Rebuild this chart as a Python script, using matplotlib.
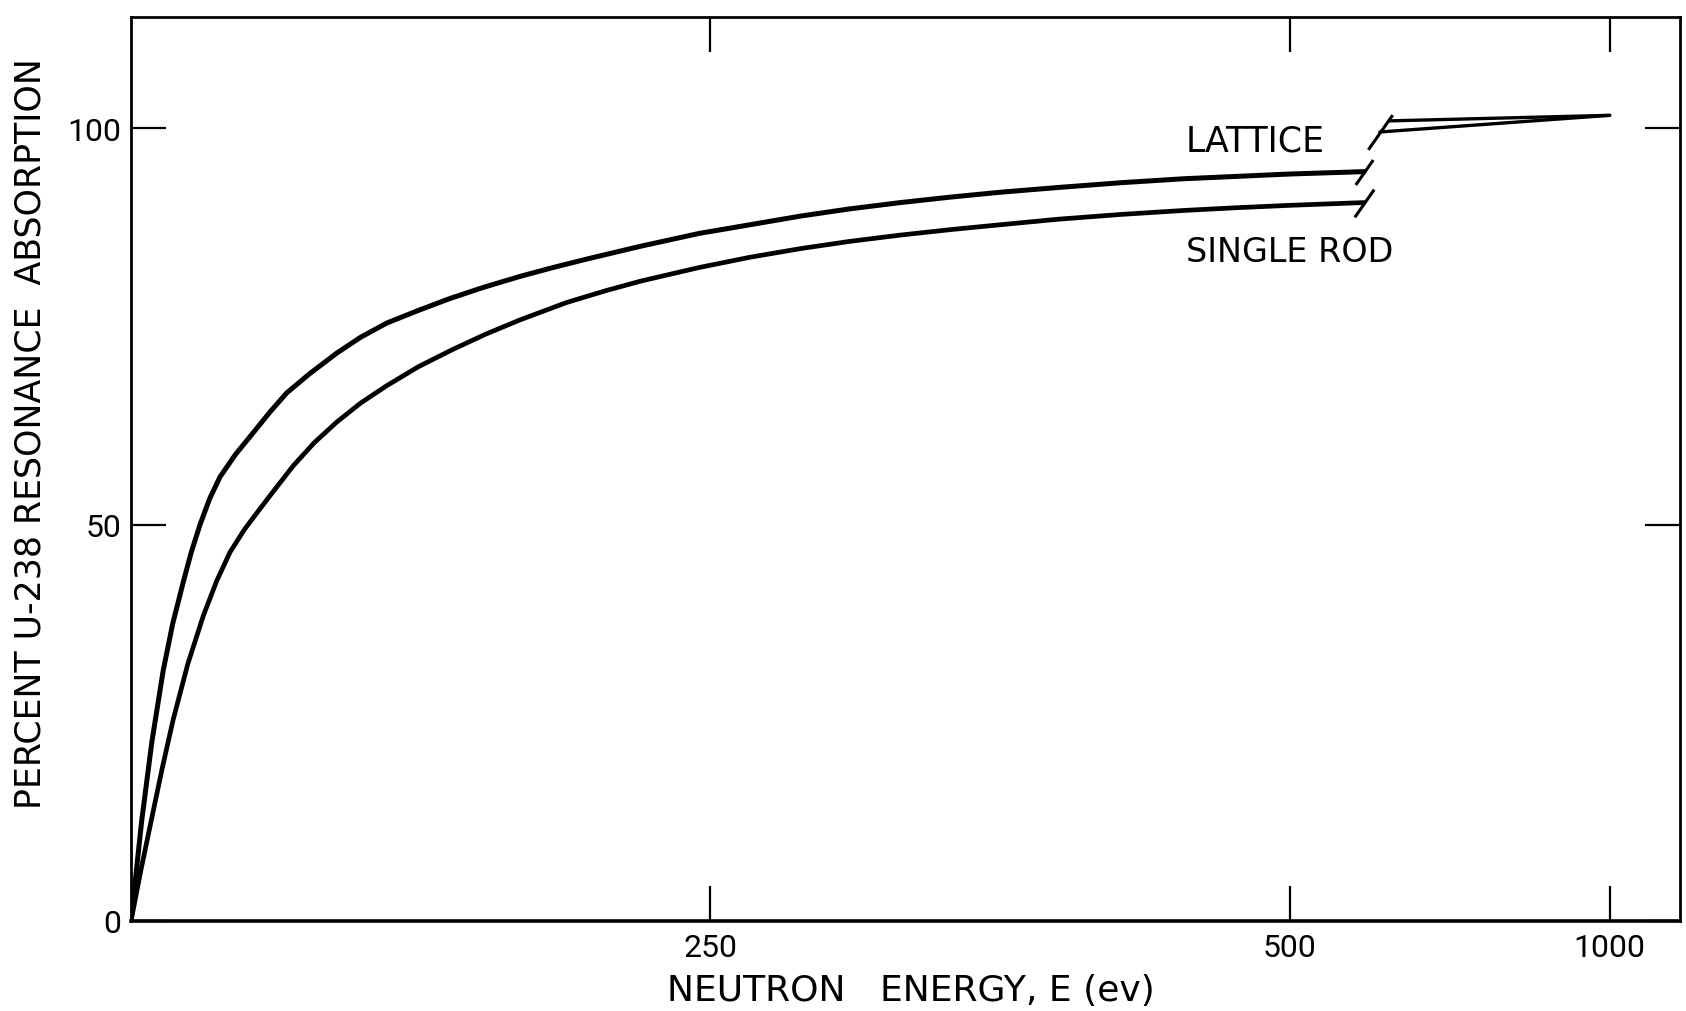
import numpy as np
import matplotlib
matplotlib.use('Agg')
import matplotlib.pyplot as plt

# curves (energy in ev, percent absorption)
lattice_e = [0, 4.6, 9, 13.9, 18, 22.6, 26, 29.8, 34, 38.4, 45, 52.8, 60, 67.2,
             77, 88.7, 99, 110.3, 124, 137.6, 152, 168, 182, 197, 220, 245,
             267, 289, 310, 332, 354, 375, 400, 427, 454, 477, 500, 532]
lattice_p = [0, 12.6, 22.6, 31.6, 37.5, 42.8, 46.5, 50.0, 53.3, 56.0, 58.8,
             61.6, 64.2, 66.6, 69.0, 71.6, 73.6, 75.4, 77.0, 78.5, 79.9, 81.3,
             82.4, 83.5, 85.1, 86.7, 87.8, 88.9, 89.8, 90.6, 91.3, 91.9, 92.5,
             93.1, 93.6, 93.9, 94.2, 94.5]

rod_e = [0, 4.4, 8.9, 13.5, 18.2, 24.5, 31.2, 37, 42.7, 49, 55.7, 62, 70, 79,
         88.7, 99, 110.3, 124, 139, 153, 167.8, 188, 205, 220, 245, 267, 289,
         310, 332, 354, 375, 400, 427, 454, 477, 500, 532]
rod_p = [0, 6.6, 12.9, 19.3, 25.4, 32.4, 38.5, 42.9, 46.5, 49.4, 52.0, 54.4,
         57.4, 60.3, 62.9, 65.3, 67.5, 69.9, 72.1, 74.0, 75.8, 78.0, 79.5,
         80.7, 82.4, 83.7, 84.8, 85.7, 86.5, 87.2, 87.8, 88.5, 89.1, 89.6,
         89.95, 90.25, 90.6]

# the two lines past the axis break, meeting at 1000 ev
lattice_tail_e = [568, 1000]
lattice_tail_p = [100.9, 101.6]
rod_tail_e = [549, 1000]
rod_tail_p = [99.5, 101.6]

x_ticks = [250, 500, 1000]
y_ticks = [0, 50, 100]

# broken energy axis: linear up to BRK, compressed beyond
BRK = 536.0
K = 0.2198


def fwd(e):
    e = np.asarray(e, dtype=float)
    return np.where(e <= BRK, e, BRK + (e - BRK) * K)


def inv(p):
    p = np.asarray(p, dtype=float)
    return np.where(p <= BRK, p, BRK + (p - BRK) / K)


fig = plt.figure(figsize=(16.86, 10.12), dpi=100)
ax = fig.add_axes([131 / 1686, 1 - 922 / 1012, (1680 - 131) / 1686, (922 - 18) / 1012])
ax.set_xscale('function', functions=(fwd, inv))
ax.set_xlim(0, 1138)
ax.set_ylim(0, 114)

line_kw = dict(color='black', solid_capstyle='round', solid_joinstyle='round')
ax.plot(lattice_e, lattice_p, lw=3.6, **line_kw)
ax.plot(rod_e, rod_p, lw=3.4, **line_kw)
ax.plot(lattice_tail_e, lattice_tail_p, lw=2.4, **line_kw)
ax.plot(rod_tail_e, rod_tail_p, lw=2.4, **line_kw)

# break marks at the curve ends
slash = [(-0.7, -1), (0.7, 1)]
ax.plot(lattice_e[-1], lattice_p[-1], marker=slash, ms=18, mew=2.2, color='black')
ax.plot(rod_e[-1], rod_p[-1], marker=slash, ms=20, mew=2.2, color='black')
ax.plot(rod_tail_e[0], rod_tail_p[0], marker=slash, ms=25, mew=2.2, color='black')

ax.text(455, 98.4, 'LATTICE', fontsize=25, va='center', ha='left')
ax.text(455, 84.4, 'SINGLE ROD', fontsize=24, va='center', ha='left')

ax.set_xticks(x_ticks)
ax.set_xticklabels([str(v) for v in x_ticks], fontfamily='Roboto', fontsize=23)
ax.set_yticks(y_ticks)
ax.set_yticklabels([str(v) for v in y_ticks], fontfamily='Roboto', fontsize=23)
ax.minorticks_off()
ax.tick_params(axis='both', direction='in', top=True, right=True,
               length=25, width=1.6)
ax.tick_params(axis='x', pad=9)
ax.tick_params(axis='y', pad=7)

for s in ax.spines.values():
    s.set_linewidth(2.0)
ax.spines['bottom'].set_linewidth(2.6)

ax.set_xlabel('NEUTRON   ENERGY, E (ev)', fontsize=26)
ax.xaxis.set_label_coords(0.5036, -0.058)
ax.set_ylabel('PERCENT U-238 RESONANCE  ABSORPTION', fontsize=25)
ax.yaxis.set_label_coords(-0.054, 0.54)

fig.savefig('out.png', dpi=100)
